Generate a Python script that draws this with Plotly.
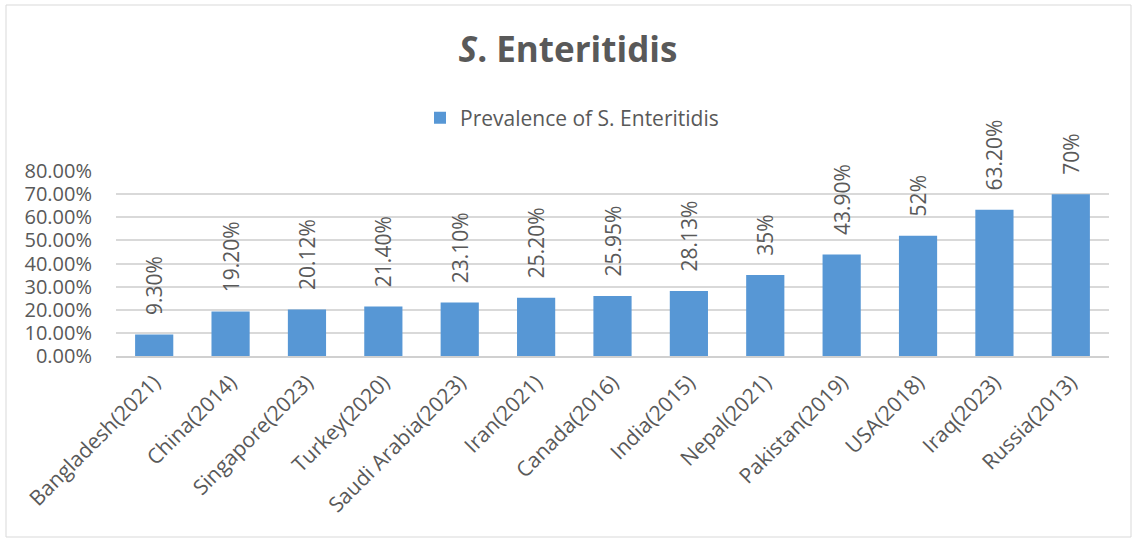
import plotly.graph_objects as go

categories = ["Bangladesh(2021)", "China(2014)", "Singapore(2023)", "Turkey(2020)",
              "Saudi Arabia(2023)", "Iran(2021)", "Canada(2016)", "India(2015)",
              "Nepal(2021)", "Pakistan(2019)", "USA(2018)", "Iraq(2023)", "Russia(2013)"]
values = [0.093, 0.192, 0.2012, 0.214, 0.231, 0.252, 0.2595, 0.2813,
          0.35, 0.439, 0.52, 0.632, 0.70]
value_labels = ["9.30%", "19.20%", "20.12%", "21.40%", "23.10%", "25.20%", "25.95%",
                "28.13%", "35%", "43.90%", "52%", "63.20%", "70%"]
y_ticks = [0, 0.1, 0.2, 0.3, 0.4, 0.5, 0.6, 0.7, 0.8]
y_tick_labels = ["0.00%", "10.00%", "20.00%", "30.00%", "40.00%", "50.00%",
                 "60.00%", "70.00%", "80.00%"]

FONT = "Open Sans"
GRAY = "#595959"
PAD = "\u00a0" * 3

fig = go.Figure()
fig.add_trace(go.Bar(
    x=categories, y=values, name="Prevalence of S. Enteritidis",
    marker=dict(color="#5797d5", line=dict(width=0)),
    width=0.5,
    text=[PAD + t for t in value_labels], textposition="outside", textangle=-90,
    textfont=dict(family=FONT, size=21, color=GRAY),
    constraintext="none",
    cliponaxis=False,
))

L, R, T, B = 116, 27, 171, 184
W, H = 1136, 540
pw, ph = W - L - R, H - T - B

def px(x):
    return (x - L) / pw

def py(y):
    return (H - B - y) / ph

fig.update_layout(
    width=W, height=H,
    margin=dict(l=L, r=R, t=T, b=B),
    paper_bgcolor="white", plot_bgcolor="white",
    font=dict(family=FONT, color=GRAY, size=21),
    title=dict(text="<b><i>S</i>. Enteritidis</b>", x=0.5, xanchor="center",
               y=1 - 50 / H, yanchor="middle", yref="container",
               font=dict(family=FONT, size=35, color=GRAY)),
    showlegend=True,
    legend=dict(orientation="h", x=px(420), xanchor="left",
                y=py(118), yanchor="middle", font=dict(family=FONT, size=21, color=GRAY),
                bgcolor="rgba(0,0,0,0)", itemwidth=30),
    xaxis=dict(tickangle=-45, tickfont=dict(family=FONT, size=21, color=GRAY),
               showgrid=False, showline=True, linecolor="#d0d0d0", linewidth=1.5,
               ticks="", ticklabelstandoff=4),
    yaxis=dict(range=[0, 0.8], tickvals=y_ticks, ticktext=y_tick_labels,
               tickfont=dict(family=FONT, size=20, color=GRAY),
               showgrid=True, gridcolor="#d9d9d9", gridwidth=1.5,
               zeroline=False, showline=False, ticks="", ticklabelstandoff=23),
    bargap=0.5,
    shapes=[dict(type="rect", xref="paper", yref="paper",
                 x0=px(6), x1=px(1131), y0=py(537), y1=py(5),
                 line=dict(color="#d9d9d9", width=1), fillcolor="rgba(0,0,0,0)",
                 layer="below")],
)

fig.write_html("out.html")
